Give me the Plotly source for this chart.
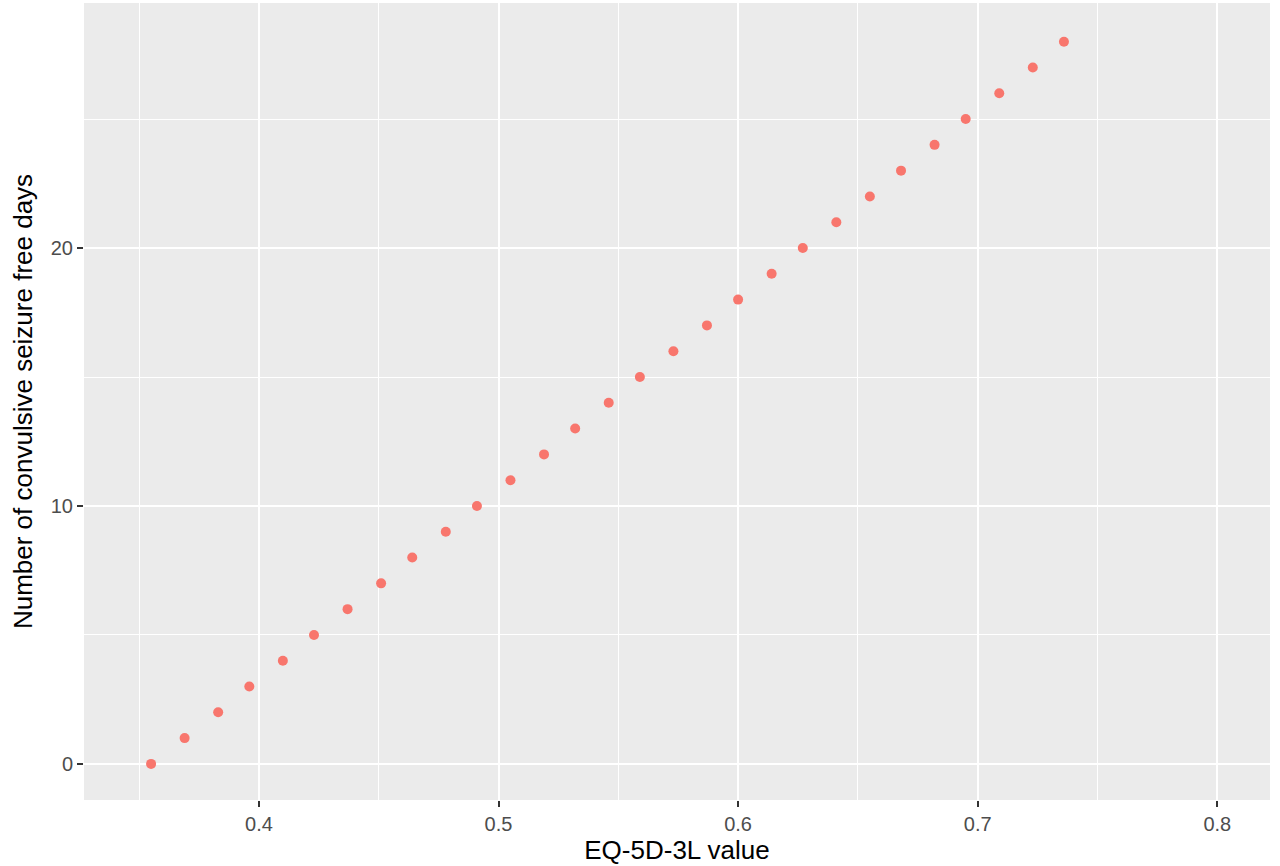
import plotly.graph_objects as go

# Data
eq5d_value = [0.355, 0.369, 0.383, 0.396, 0.410, 0.423, 0.437, 0.451, 0.464, 0.478,
              0.491, 0.505, 0.519, 0.532, 0.546, 0.559, 0.573, 0.587, 0.600, 0.614,
              0.627, 0.641, 0.655, 0.668, 0.682, 0.695, 0.709, 0.723, 0.736]
seizure_free_days = list(range(0, 29))

x_ticks = [0.4, 0.5, 0.6, 0.7, 0.8]
x_ticklabels = ["0.4", "0.5", "0.6", "0.7", "0.8"]
y_ticks = [0, 10, 20]
y_ticklabels = ["0", "10", "20"]

fig = go.Figure()
fig.add_trace(go.Scatter(
    x=eq5d_value, y=seizure_free_days, mode="markers",
    marker=dict(color="#F8766D", size=10, line=dict(width=0)),
    showlegend=False,
))

font_family = "Liberation Sans, Arial, sans-serif"

fig.update_layout(
    width=1280, height=866,
    margin=dict(l=84, r=10, t=3, b=66),
    paper_bgcolor="white",
    plot_bgcolor="#EBEBEB",
    font=dict(family=font_family),
    xaxis=dict(
        range=[0.327, 0.822],
        tickmode="array", tickvals=x_ticks, ticktext=x_ticklabels,
        ticks="outside", ticklen=6, tickwidth=2, tickcolor="#333333",
        tickfont=dict(size=20, color="#4D4D4D", family=font_family),
        showgrid=True, gridcolor="white", gridwidth=2,
        minor=dict(tickmode="array", tickvals=[0.35, 0.45, 0.55, 0.65, 0.75],
                   showgrid=True, gridcolor="white", gridwidth=1, ticks=""),
        zeroline=False, showline=False,
        title=dict(text="EQ-5D-3L value", font=dict(size=26, color="black", family=font_family),
                   standoff=2),
        automargin=False,
    ),
    yaxis=dict(
        range=[-1.4, 29.5],
        tickmode="array", tickvals=y_ticks, ticktext=y_ticklabels,
        ticks="outside", ticklen=6, tickwidth=2, tickcolor="#333333",
        tickfont=dict(size=20, color="#4D4D4D", family=font_family),
        showgrid=True, gridcolor="white", gridwidth=2,
        minor=dict(tickmode="array", tickvals=[5, 15, 25],
                   showgrid=True, gridcolor="white", gridwidth=1, ticks=""),
        zeroline=False, showline=False,
        title=dict(text="Number of convulsive seizure free days",
                   font=dict(size=26, color="black", family=font_family), standoff=10),
        automargin=False,
    ),
)

fig.write_html("out.html",
               config={"displayModeBar": False},
               post_script="document.body.style.margin='0px';document.body.style.overflow='hidden';")
